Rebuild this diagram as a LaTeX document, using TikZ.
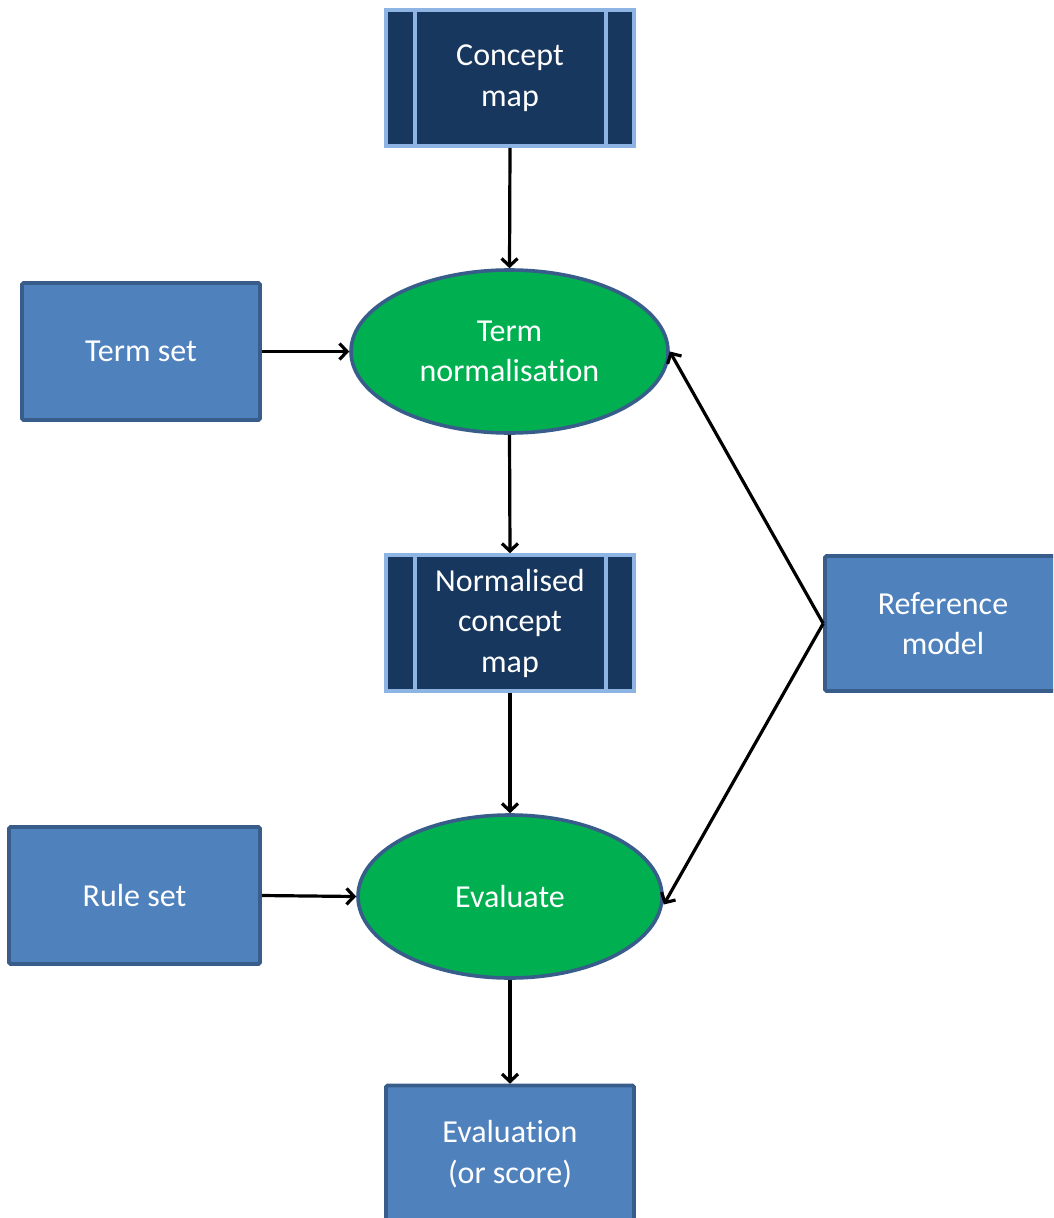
\documentclass[tikz,border=0pt]{standalone}
\usepackage{fontspec}
\setmainfont[Ligatures=NoCommon]{Carlito}
\usetikzlibrary{arrows.meta,shapes.geometric}
\definecolor{procfill}{HTML}{4F81BD}
\definecolor{procline}{HTML}{385D8A}
\definecolor{darkfill}{HTML}{17375E}
\definecolor{lightline}{HTML}{8EB4E3}
\definecolor{ellfill}{HTML}{00B050}
\tikzset{
  txt/.style={text=white,font=\fontsize{32}{40.5}\selectfont,align=center},
  bluebox/.style={txt,rectangle,fill=procfill,draw=procline,line width=3.6pt,rounded corners=1.5pt},
  darkbox/.style={txt,rectangle,fill=darkfill,draw=lightline,line width=3.6pt,minimum width=248pt,minimum height=136pt,inner sep=0pt},
  ell/.style={txt,ellipse,fill=ellfill,draw=procline,line width=3.6pt,inner sep=0pt},
  arr/.style={line width=3.2pt,-{Straight Barb[length=7.5pt,width=16pt,line width=3.2pt]}},
  sep/.style={draw=lightline,line width=3.6pt}
}
\begin{document}
\begin{tikzpicture}[x=1pt,y=-1pt]
\useasboundingbox (0,0) rectangle (1053,1218);
\clip (0,0) rectangle (1053,1218);
\fill[white] (0,0) rectangle (1053,1218);
% nodes
\node[darkbox] (cm) at (510,78) {Concept\\map};
\node[bluebox,minimum width=238pt,minimum height=137pt] (ts) at (141,351.5) {Term set};
\node[ell,minimum width=317pt,minimum height=163pt] (tn) at (509.5,351.5) {Term\\normalisation};
\node[darkbox] (ncm) at (510,623) {Normalised\\concept\\map};
\node[bluebox,minimum width=236pt,minimum height=135pt] (ref) at (943,623.5) {Reference\\model};
\node[ell,minimum width=304pt,minimum height=163pt] (ev) at (510,896.5) {Evaluate};
\node[bluebox,minimum width=251pt,minimum height=137pt] (rs) at (134.5,895.5) {Rule set};
\node[bluebox,minimum width=248pt,minimum height=137pt] (eval) at (510,1154) {Evaluation\\(or score)};
% separators of the predefined-process boxes
\draw[sep] ([xshift=31pt]cm.north west) -- ([xshift=31pt]cm.south west);
\draw[sep] ([xshift=-30pt]cm.north east) -- ([xshift=-30pt]cm.south east);
\draw[sep] ([xshift=31pt]ncm.north west) -- ([xshift=31pt]ncm.south west);
\draw[sep] ([xshift=-30pt]ncm.north east) -- ([xshift=-30pt]ncm.south east);
% connectors
\draw[arr] (cm.south) -- (tn.north);
\draw[arr] (ts.east) -- (tn.west);
\draw[arr] (tn.south) -- (ncm.north);
\draw[arr] (ncm.south) -- (ev.north);
\draw[arr] (rs.east) -- (ev.west);
\draw[arr] (ev.south) -- (eval.north);
\draw[arr] (ref.west) -- (tn.east);
\draw[arr] (ref.west) -- ([yshift=-8pt]ev.east);
\end{tikzpicture}
\end{document}
